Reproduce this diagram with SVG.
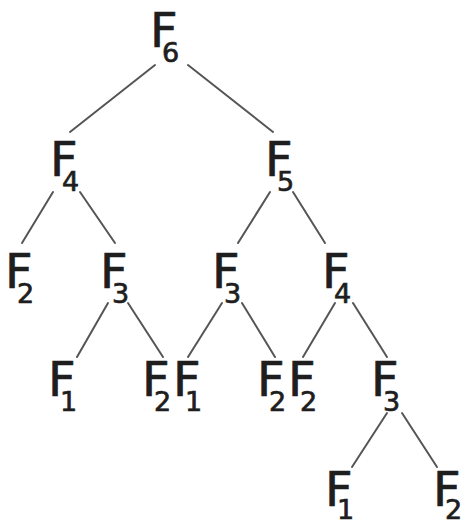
<svg xmlns="http://www.w3.org/2000/svg" width="464" height="522" viewBox="0 0 464 522">
<style>
text{font-family:"DejaVu Sans","Liberation Sans",sans-serif;fill:#1e1e1e;stroke:#1e1e1e;stroke-width:0.7}
.f{font-size:48px}
.s{font-size:27px}
#edges line{stroke:#555;stroke-width:2;stroke-linecap:round}
</style>
<rect width="464" height="522" fill="#fff"/>
<g id="edges">
<line x1="155" y1="65" x2="70" y2="132"/>
<line x1="188" y1="65" x2="273" y2="132"/>
<line x1="53" y1="192" x2="22" y2="243"/>
<line x1="80" y1="192" x2="115" y2="243"/>
<line x1="270" y1="192" x2="238" y2="243"/>
<line x1="293" y1="192" x2="325" y2="243"/>
<line x1="108" y1="303" x2="77" y2="357"/>
<line x1="128" y1="303" x2="163" y2="357"/>
<line x1="222" y1="303" x2="188" y2="357"/>
<line x1="242" y1="303" x2="275" y2="357"/>
<line x1="335" y1="303" x2="303" y2="357"/>
<line x1="353" y1="303" x2="387" y2="357"/>
<line x1="387" y1="413" x2="352" y2="467"/>
<line x1="402" y1="413" x2="437" y2="467"/>
</g>
<g id="n6"><text><tspan class="f" x="150" y="47">F</tspan><tspan class="s" x="162" y="62">6</tspan></text></g>
<g id="n4a"><text><tspan class="f" x="50" y="176">F</tspan><tspan class="s" x="62" y="191">4</tspan></text></g>
<g id="n5"><text><tspan class="f" x="265" y="176">F</tspan><tspan class="s" x="277" y="191">5</tspan></text></g>
<g id="n2a"><text><tspan class="f" x="5" y="288">F</tspan><tspan class="s" x="17" y="303">2</tspan></text></g>
<g id="n3a"><text><tspan class="f" x="100" y="288">F</tspan><tspan class="s" x="112" y="303">3</tspan></text></g>
<g id="n3b"><text><tspan class="f" x="212" y="288">F</tspan><tspan class="s" x="224" y="303">3</tspan></text></g>
<g id="n4b"><text><tspan class="f" x="322" y="288">F</tspan><tspan class="s" x="334" y="303">4</tspan></text></g>
<g id="n1a"><text><tspan class="f" x="48" y="396">F</tspan><tspan class="s" x="60" y="411">1</tspan></text></g>
<g id="n2b"><text><tspan class="f" x="142" y="396">F</tspan><tspan class="s" x="154" y="411">2</tspan></text></g>
<g id="n1b"><text><tspan class="f" x="173" y="396">F</tspan><tspan class="s" x="185" y="411">1</tspan></text></g>
<g id="n2c"><text><tspan class="f" x="257" y="396">F</tspan><tspan class="s" x="269" y="411">2</tspan></text></g>
<g id="n2d"><text><tspan class="f" x="288" y="396">F</tspan><tspan class="s" x="300" y="411">2</tspan></text></g>
<g id="n3c"><text><tspan class="f" x="371" y="396">F</tspan><tspan class="s" x="383" y="411">3</tspan></text></g>
<g id="n1c"><text><tspan class="f" x="325" y="506">F</tspan><tspan class="s" x="337" y="519">1</tspan></text></g>
<g id="n2e"><text><tspan class="f" x="433" y="506">F</tspan><tspan class="s" x="445" y="519">2</tspan></text></g>
</svg>
